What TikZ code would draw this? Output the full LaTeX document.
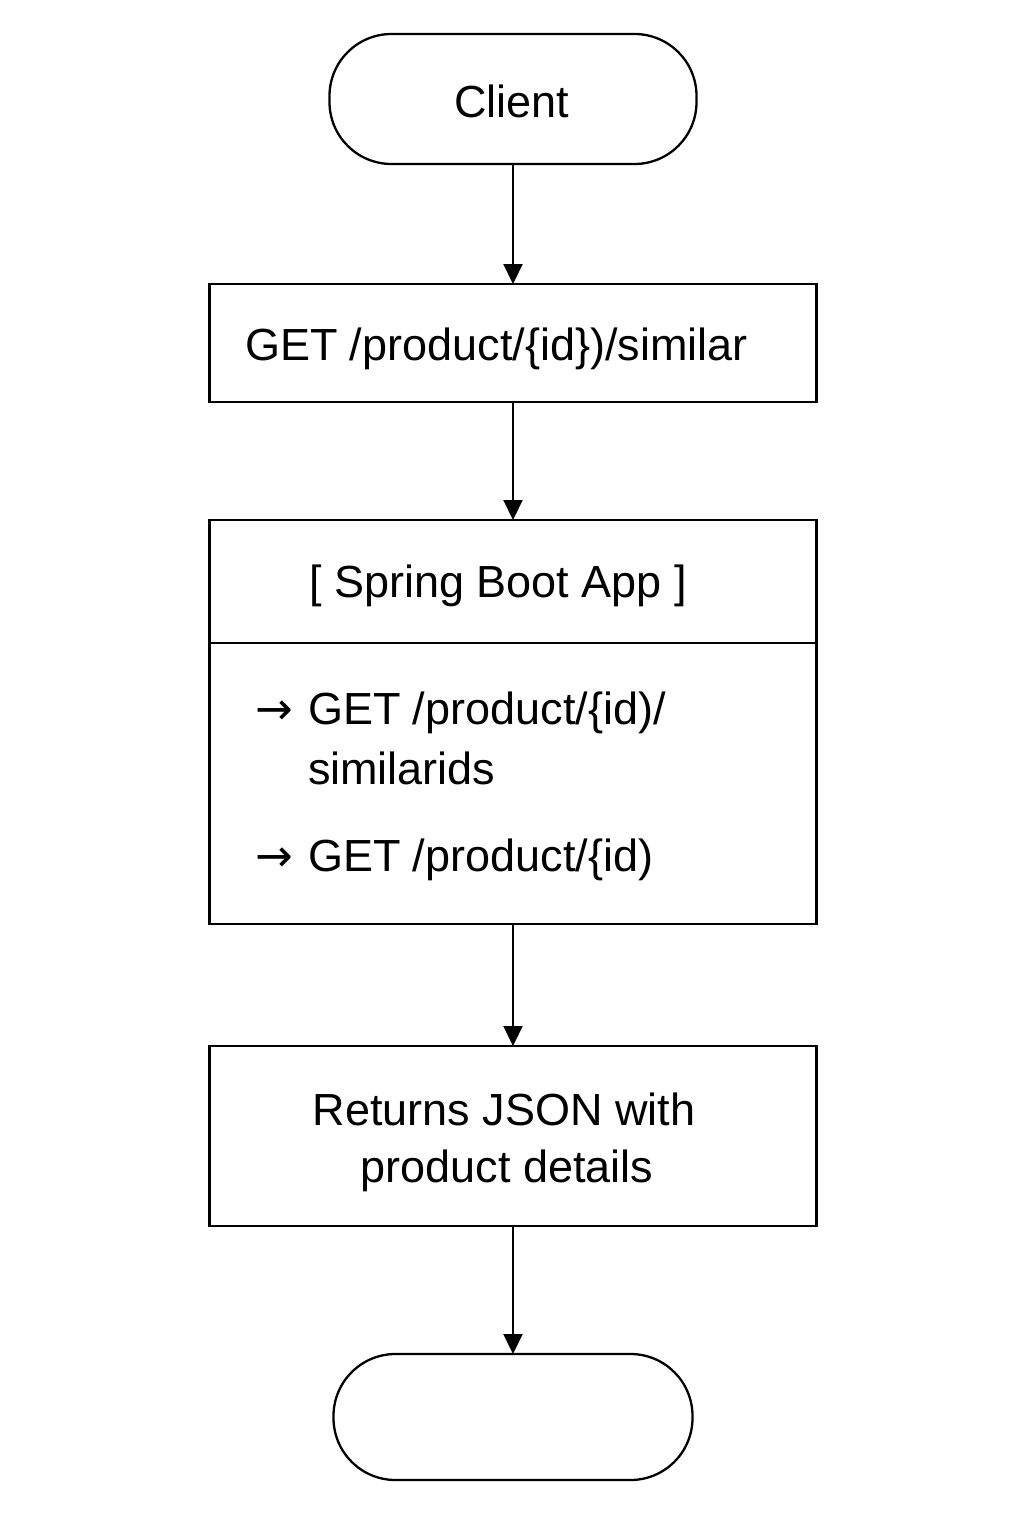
\documentclass[tikz,border=0pt]{standalone}
\usepackage{fontspec}
\setmainfont{Liberation Sans}
\newfontfamily\arrowfont{DejaVu Sans}
\usetikzlibrary{arrows.meta}
\begin{document}
\begin{tikzpicture}[x=0.5pt,y=-0.5pt,
  every node/.style={inner sep=0pt,outer sep=0pt},
  lbl/.style={font=\fontsize{22.5}{27}\selectfont},
  term/.style={draw,line width=1.15pt,rounded corners=31pt},
  boxst/.style={draw,line width=1.15pt},
  conn/.style={line width=1.1pt,-{Triangle[length=10pt,width=9.5pt]}}]
\useasboundingbox (0,0) rectangle (1024,1536);
\fill[white] (0,0) rectangle (1024,1536);
% shapes
\node[term,minimum width=183.5pt,minimum height=65pt] (client) at (513,99) {};
\node[boxst,minimum width=303.5pt,minimum height=59pt] (get) at (513,343) {};
\node[boxst,minimum width=303.5pt,minimum height=202pt] (spring) at (513,722) {};
\coordinate (divl) at (210,643);
\coordinate (divr) at (817,643);
\draw[line width=1.15pt] (divl) -- (divr);
\node[boxst,minimum width=303.5pt,minimum height=90pt] (ret) at (513,1136) {};
\node[term,minimum width=179.5pt,minimum height=63pt] (endn) at (513,1417) {};
% texts
\node[lbl,anchor=base] (tclient) at (512,118) {Client};
\node[lbl,anchor=base west] (tget) at (245,360) {GET /product/\{id\})/similar};
\node[lbl,anchor=base] (tspring) at (498,597) {[ Spring Boot App ]};
\node[lbl,anchor=base west] (ta1) at (255,724) {\arrowfont →};
\node[lbl,anchor=base west] (tl1) at (308,724) {GET /product/\{id)/};
\node[lbl,anchor=base west] (tl2) at (308,784) {similarids};
\node[lbl,anchor=base west] (ta2) at (255,871) {\arrowfont →};
\node[lbl,anchor=base west] (tl3) at (308,871) {GET /product/\{id)};
\node[lbl,anchor=base] (tr1) at (504,1125) {Returns JSON with};
\node[lbl,anchor=base] (tr2) at (507,1182) {product details};
% connectors
\draw[conn] (client.south) -- (get.north);
\draw[conn] (get.south) -- (spring.north);
\draw[conn] (spring.south) -- (ret.north);
\draw[conn] (ret.south) -- (endn.north);
\end{tikzpicture}
\end{document}
